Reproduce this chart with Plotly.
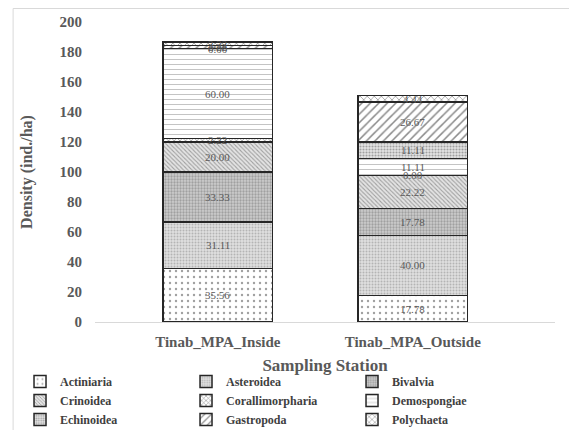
import plotly.graph_objects as go

stations = ["Tinab_MPA_Inside", "Tinab_MPA_Outside"]
taxa = ["Actiniaria", "Asteroidea", "Bivalvia", "Crinoidea", "Corallimorpharia",
        "Demospongiae", "Echinoidea", "Gastropoda", "Polychaeta"]
actiniaria = [35.56, 17.78]
asteroidea = [31.11, 40.00]
bivalvia = [33.33, 17.78]
crinoidea = [20.00, 22.22]
corallimorpharia = [2.22, 0.00]
demospongiae = [60.00, 11.11]
echinoidea = [0.00, 11.11]
gastropoda = [2.22, 26.67]
polychaeta = [2.22, 4.44]
series = [actiniaria, asteroidea, bivalvia, crinoidea, corallimorpharia,
          demospongiae, echinoidea, gastropoda, polychaeta]
y_ticks = [0, 20, 40, 60, 80, 100, 120, 140, 160, 180, 200]

patterns = [
    dict(shape=".", fgcolor="#a0a0a0", bgcolor="#ffffff", size=6, solidity=0.12),
    dict(shape=".", fgcolor="#b4b4b4", bgcolor="#e0e0e0", size=3, solidity=0.35),
    dict(shape=".", fgcolor="#a0a0a0", bgcolor="#cdcdcd", size=3, solidity=0.45),
    dict(shape="\\", fgcolor="#a0a0a0", bgcolor="#e4e4e4", size=3, solidity=0.35),
    dict(shape="x", fgcolor="#8a8a8a", bgcolor="#ffffff", size=4, solidity=0.3),
    dict(shape="-", fgcolor="#c4c4c4", bgcolor="#ffffff", size=5, solidity=0.2),
    dict(shape=".", fgcolor="#a0a0a0", bgcolor="#e4e4e4", size=3, solidity=0.4),
    dict(shape="/", fgcolor="#8a8a8a", bgcolor="#ffffff", size=6, solidity=0.25),
    dict(shape="x", fgcolor="#8a8a8a", bgcolor="#ffffff", size=5, solidity=0.25),
]

FONT = "Liberation Serif, Times New Roman, serif"
GRAY = "#595959"

fig = go.Figure()
for name, vals, pat in zip(taxa, series, patterns):
    fig.add_trace(go.Bar(
        x=[0, 1], y=vals, name=name, width=0.56,
        marker=dict(color=pat["bgcolor"], line=dict(color="#262626", width=1.5),
                    pattern=dict(fillmode="replace", **pat)),
    ))

annotations = []
for j in range(len(stations)):
    base = 0.0
    for vals in series:
        v = vals[j]
        annotations.append(dict(x=j, y=base + v / 2, text=f"{v:.2f}", showarrow=False,
                                xref="x", yref="y",
                                font=dict(family=FONT, size=11, color=GRAY)))
        base += v

fig.update_layout(
    barmode="stack",
    width=577, height=430,
    margin=dict(l=87, r=30, t=14, b=116, autoexpand=False),
    paper_bgcolor="white", plot_bgcolor="white",
    font=dict(family=FONT, color=GRAY),
    annotations=annotations,
    shapes=[dict(type="rect", xref="paper", yref="paper", x0=-0.178, x1=1.2,
                 y0=-0.5, y1=1.045, line=dict(color="#d9d9d9", width=1),
                 fillcolor="rgba(0,0,0,0)", layer="below")],
    showlegend=True,
    legend=dict(orientation="h", xref="paper", yref="paper",
                x=-0.163, xanchor="left", y=-0.15, yanchor="top",
                entrywidth=121, traceorder="normal", itemwidth=30,
                font=dict(family=FONT, size=12, color="#404040", weight="bold"),
                tracegroupgap=0, bgcolor="rgba(0,0,0,0)"),
    xaxis=dict(tickmode="array", tickvals=[0, 1], ticktext=stations,
               range=[-0.63, 1.73], showgrid=False, zeroline=False,
               showline=True, linecolor="#d9d9d9", linewidth=1, ticks="",
               ticklabelstandoff=6,
               tickfont=dict(family=FONT, size=15, color=GRAY, weight="bold"),
               title=dict(text="Sampling Station", standoff=10,
                          font=dict(family=FONT, size=17, color=GRAY, weight="bold"))),
    yaxis=dict(range=[0, 200], tickvals=y_ticks, showgrid=False, zeroline=False,
               showline=False, ticks="outside", ticklen=9, tickcolor="rgba(0,0,0,0)",
               tickfont=dict(family=FONT, size=15, color=GRAY, weight="bold"),
               title=dict(text="Density (ind./ha)", standoff=22,
                          font=dict(family=FONT, size=16, color=GRAY, weight="bold"))),
)

fig.write_html("out.html")
